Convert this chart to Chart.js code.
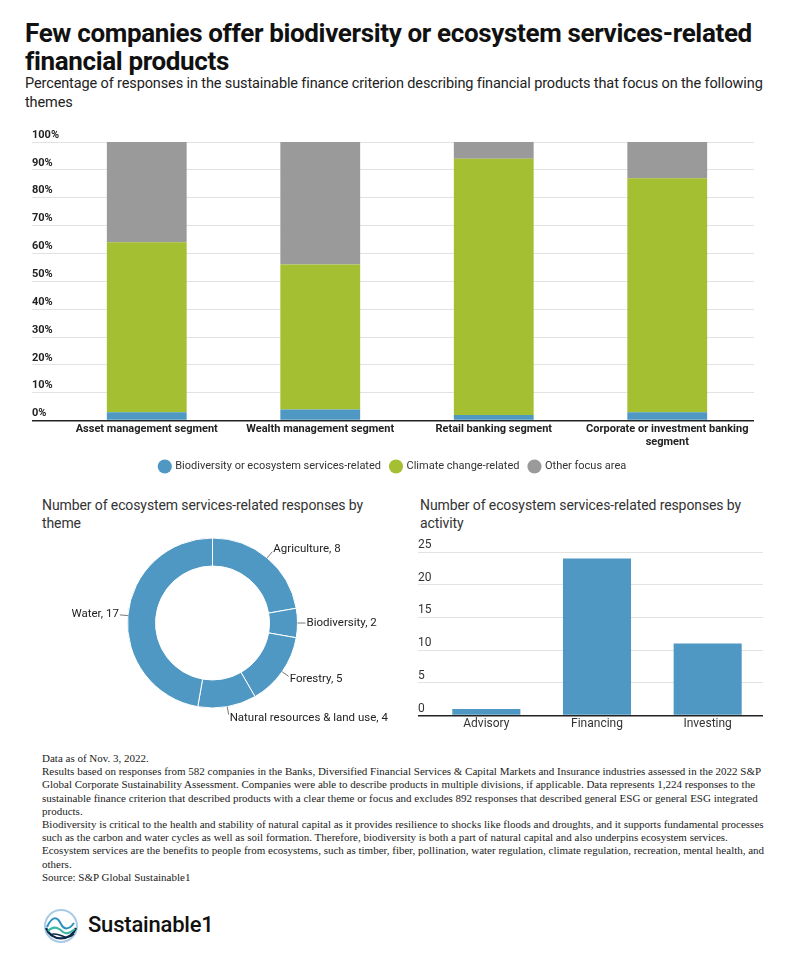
<!DOCTYPE html>
<html>
<head>
<meta charset="utf-8">
<script src="https://cdn.jsdelivr.net/npm/chart.js@4.4.1/dist/chart.umd.min.js"></script>
<style>
  body { margin: 0; width: 804px; height: 958px; background: #fff; position: relative; overflow: hidden; font-family: Roboto, sans-serif; color: #111; }
  .abs { position: absolute; }
  #title { left: 25px; top: 19px; font-size: 26px; font-weight: bold; line-height: 28px; letter-spacing: -0.35px; white-space: nowrap; }
  #sub { left: 25px; top: 74px; font-size: 14.5px; line-height: 19px; letter-spacing: -0.12px; color: #222; white-space: nowrap; }
  .panelTitle { font-size: 14px; line-height: 18px; color: #333; white-space: nowrap; letter-spacing: -0.1px; }
  #notes { left: 42px; top: 752px; font-family: "Liberation Serif", serif; font-size: 11px; line-height: 13.2px; color: #222; white-space: nowrap; }
  #brand { left: 88px; top: 912px; font-size: 22px; font-weight: 500; color: #111; letter-spacing: -0.2px; }
</style>
</head>
<body>
<div id="title" class="abs">Few companies offer biodiversity or ecosystem services-related<br>financial products</div>
<div id="sub" class="abs">Percentage of responses in the sustainable finance criterion describing financial products that focus on the following<br>themes</div>

<canvas id="segChart" class="abs" style="left:0;top:125px" width="804" height="360"></canvas>

<div class="abs panelTitle" style="left:42px;top:496px">Number of ecosystem services-related responses by<br>theme</div>
<div class="abs panelTitle" style="left:420px;top:496px">Number of ecosystem services-related responses by<br>activity</div>

<canvas id="themeChart" class="abs" style="left:20px;top:535px" width="380" height="200"></canvas>
<canvas id="activityChart" class="abs" style="left:400px;top:535px" width="404" height="210"></canvas>

<div id="notes" class="abs">Data as of Nov. 3, 2022.<br>
Results based on responses from 582 companies in the Banks, Diversified Financial Services &amp; Capital Markets and Insurance industries assessed in the 2022 S&amp;P<br>
Global Corporate Sustainability Assessment. Companies were able to describe products in multiple divisions, if applicable. Data represents 1,224 responses to the<br>
sustainable finance criterion that described products with a clear theme or focus and excludes 892 responses that described general ESG or general ESG integrated<br>
products.<br>
Biodiversity is critical to the health and stability of natural capital as it provides resilience to shocks like floods and droughts, and it supports fundamental processes<br>
such as the carbon and water cycles as well as soil formation. Therefore, biodiversity is both a part of natural capital and also underpins ecosystem services.<br>
Ecosystem services are the benefits to people from ecosystems, such as timber, fiber, pollination, water regulation, climate regulation, recreation, mental health, and<br>
others.<br>
Source: S&amp;P Global Sustainable1</div>

<svg class="abs" style="left:43px;top:908px" width="36" height="36" viewBox="0 0 36 36">
  <circle cx="18" cy="18" r="16" fill="none" stroke="#a9cbe6" stroke-width="2"/>
  <path d="M3 20 A16 16 0 0 0 33 20" fill="none" stroke="#0d2a4a" stroke-width="2.2"/>
  <path d="M4 19 C9 8 14 8 18 16 C21 22 26 22 31 15" fill="none" stroke="#2a8fc0" stroke-width="2"/>
  <path d="M5 23 C11 17 16 20 20 24 C24 27 28 24 32 21" fill="none" stroke="#38b7a3" stroke-width="2"/>
  <path d="M7 27 C13 24 18 28 22 29 C26 30 29 28 31 26" fill="none" stroke="#0d2a4a" stroke-width="1.6"/>
</svg>
<div id="brand" class="abs">Sustainable1</div>

<script>
// ---- Data ----
const segments = ['Asset management segment', 'Wealth management segment', 'Retail banking segment', ['Corporate or investment banking', 'segment']];
const biodiversityShare = [3, 4, 2, 3];
const climateShare = [61, 52, 92, 84];
const otherShare = [36, 44, 6, 13];

const themes = ['Agriculture', 'Biodiversity', 'Forestry', 'Natural resources & land use', 'Water'];
const themeCounts = [8, 2, 5, 4, 17];

const activities = ['Advisory', 'Financing', 'Investing'];
const activityCounts = [1, 24, 11];

const BLUE = '#4e98c3';
const GREEN = '#a4bf31';
const GRAY = '#9a9a9a';
const GRID = '#e2e2e2';
const AXIS = '#222';

// grid line style: dark at zero, light elsewhere
const gridColor = c => (c.tick && c.tick.value === 0) ? AXIS : GRID;
const gridWidth = c => (c.tick && c.tick.value === 0) ? 1.5 : 1;

// ---- Graph 1: stacked segments ----
new Chart(document.getElementById('segChart'), {
    type: 'bar',
    data: {
        labels: segments,
        datasets: [
            { label: 'Biodiversity or ecosystem services-related', data: biodiversityShare, backgroundColor: BLUE },
            { label: 'Climate change-related', data: climateShare, backgroundColor: GREEN },
            { label: 'Other focus area', data: otherShare, backgroundColor: GRAY }
        ]
    },
    options: {
        responsive: false,
        animation: false,
        layout: { padding: { left: 32, right: 50, top: 17, bottom: 3 } },
        datasets: { bar: { categoryPercentage: 1, barPercentage: 0.46 } },
        scales: {
            x: {
                stacked: true,
                grid: { display: false, drawTicks: false },
                border: { display: false },
                ticks: { font: { family: 'Roboto', size: 11, weight: 'bold' }, color: '#222', maxRotation: 0, autoSkip: false, padding: 2 }
            },
            y: {
                stacked: true,
                min: 0, max: 100,
                afterFit: s => { s.width = 28; },
                grid: { color: gridColor, lineWidth: gridWidth, tickLength: 28 },
                border: { display: false },
                ticks: { stepSize: 10, callback: v => v + '%', crossAlign: 'far', labelOffset: -7, padding: 0,
                         font: { family: 'Roboto', size: 11, weight: 'bold' }, color: '#222' }
            }
        },
        plugins: {
            legend: {
                position: 'bottom',
                labels: { usePointStyle: true, pointStyle: 'circle', boxWidth: 10, boxHeight: 10, padding: 10,
                          font: { family: 'Roboto', size: 11 }, color: '#333' }
            },
            tooltip: { enabled: false }
        }
    }
});

// ---- Graph 2: doughnut by theme ----
const sliceLabels = {
    id: 'sliceLabels',
    afterDatasetsDraw(chart) {
        const ctx = chart.ctx;
        const meta = chart.getDatasetMeta(0);
        ctx.save();
        ctx.font = '11.5px Roboto';
        ctx.fillStyle = '#222';
        ctx.strokeStyle = '#555';
        ctx.lineWidth = 0.8;
        meta.data.forEach((arc, i) => {
            const p = arc.getProps(['x', 'y', 'startAngle', 'endAngle', 'outerRadius'], true);
            const mid = (p.startAngle + p.endAngle) / 2;
            const cos = Math.cos(mid), sin = Math.sin(mid);
            const x0 = p.x + cos * p.outerRadius, y0 = p.y + sin * p.outerRadius;
            const x1 = p.x + cos * (p.outerRadius + 8), y1 = p.y + sin * (p.outerRadius + 8);
            ctx.beginPath(); ctx.moveTo(x0, y0); ctx.lineTo(x1, y1); ctx.stroke();
            const right = cos >= 0;
            ctx.textAlign = right ? 'left' : 'right';
            ctx.textBaseline = 'middle';
            ctx.fillText(themes[i] + ', ' + themeCounts[i], x1 + (right ? 1 : -1), y1 + sin * 4);
        });
        ctx.restore();
    }
};

new Chart(document.getElementById('themeChart'), {
    type: 'doughnut',
    data: {
        labels: themes,
        datasets: [{ data: themeCounts, backgroundColor: BLUE, borderColor: '#fff', borderWidth: 1 }]
    },
    options: {
        responsive: false,
        animation: false,
        radius: 85,
        cutout: '67%',
        layout: { padding: { left: 5, right: 0, top: 0, bottom: 24 } },
        plugins: { legend: { display: false }, tooltip: { enabled: false } }
    },
    plugins: [sliceLabels]
});

// ---- Graph 3: responses by activity ----
new Chart(document.getElementById('activityChart'), {
    type: 'bar',
    data: {
        labels: activities,
        datasets: [{ data: activityCounts, backgroundColor: BLUE, categoryPercentage: 1, barPercentage: 0.615 }]
    },
    options: {
        responsive: false,
        animation: false,
        layout: { padding: { left: 18, right: 41, top: 17, bottom: 13 } },
        scales: {
            x: {
                grid: { display: false, drawTicks: false },
                border: { display: false },
                ticks: { font: { family: 'Roboto', size: 12 }, color: '#333', padding: 1 }
            },
            y: {
                min: 0, max: 25,
                afterFit: s => { s.width = 13; },
                grid: { color: gridColor, lineWidth: gridWidth, tickLength: 13 },
                border: { display: false },
                ticks: { stepSize: 5, crossAlign: 'far', labelOffset: -7, padding: 0,
                         font: { family: 'Roboto', size: 12 }, color: '#333' }
            }
        },
        plugins: { legend: { display: false }, tooltip: { enabled: false } }
    }
});
</script>
</body>
</html>
